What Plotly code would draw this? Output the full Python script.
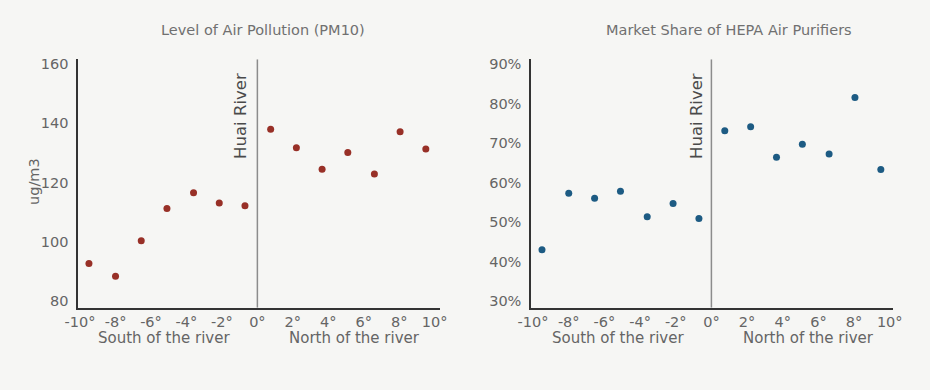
import plotly.graph_objects as go

# Data
latitude = [-9.5, -8.0, -6.55, -5.1, -3.6, -2.15, -0.7, 0.75, 2.2, 3.65, 5.1, 6.6, 8.05, 9.5]
pm10 = [92.6, 88.3, 100.3, 111.2, 116.5, 113.1, 112.1, 138.0, 131.7, 124.5, 130.1, 122.9, 137.1, 131.3]
hepa_share = [43.0, 57.3, 56.0, 57.8, 51.3, 54.7, 50.9, 73.1, 74.1, 66.4, 69.7, 67.2, 81.5, 63.3]

x_tickvals = [-10, -8, -6, -4, -2, 0, 2, 4, 6, 8, 10]
x_ticktext = ["-10°", "-8°", "-6°", "-4°", "-2°", "0°", "2°", "4°", "6°", "8°", "10°"]
pm_ticks = [80, 100, 120, 140, 160]
share_ticks = [30, 40, 50, 60, 70, 80, 90]
share_ticktext = ["30%", "40%", "50%", "60%", "70%", "80%", "90%"]

titles = ["Level of Air Pollution (PM10)", "Market Share of HEPA Air Purifiers"]
side_labels = ["South of the river", "North of the river"]
river_label = "Huai River"
y_label = "ug/m3"

BG = "#f6f6f4"
TXT = "#656565"
FONT = "DejaVu Sans"

fig = go.Figure()
fig.add_trace(go.Scatter(x=latitude, y=pm10, mode="markers", xaxis="x", yaxis="y",
                         marker=dict(color="#983027", size=7), showlegend=False))
fig.add_trace(go.Scatter(x=latitude, y=hepa_share, mode="markers", xaxis="x2", yaxis="y2",
                         marker=dict(color="#1d5b83", size=7), showlegend=False))

W, H = 930, 390
ydom = [(H - 307.7) / H, (H - 59.3) / H]

axis_common = dict(showgrid=False, zeroline=False, showline=True, linecolor="#333333",
                   linewidth=2, ticks="", automargin=False,
                   tickfont=dict(family=FONT, size=14.5, color=TXT))

fig.update_layout(
    width=W, height=H, autosize=False,
    margin=dict(l=0, r=0, t=0, b=0, pad=0),
    paper_bgcolor=BG, plot_bgcolor=BG,
    font=dict(family=FONT, color=TXT),
    xaxis=dict(domain=[78.3 / W, 440 / W], range=[-10.1, 10.3], anchor="y",
               tickvals=x_tickvals, ticktext=x_ticktext, **axis_common),
    yaxis=dict(domain=ydom, range=[77.7, 161.6], anchor="x", tickvals=pm_ticks,
               ticklabelstandoff=5, **axis_common),
    xaxis2=dict(domain=[531.3 / W, 893.3 / W], range=[-10.1, 10.2], anchor="y2",
                tickvals=x_tickvals, ticktext=x_ticktext, **axis_common),
    yaxis2=dict(domain=ydom, range=[28.3, 91.2], anchor="x2", tickvals=share_ticks,
                ticktext=share_ticktext, ticklabelstandoff=5, **axis_common),
)

# Huai river lines
for xr, yr, yrange in [("x", "y", [77.7, 161.6]), ("x2", "y2", [28.3, 91.2])]:
    fig.add_shape(type="line", xref=xr, yref=yr, x0=0, x1=0, y0=yrange[0], y1=yrange[1],
                  line=dict(color="#8c8c8c", width=1.5))

ann = []
# titles
ann.append(dict(text=titles[0], xref="paper", yref="paper", x=262.7 / W, y=(H - 30) / H,
                showarrow=False, font=dict(size=14.5, color="#707070"), xanchor="center", yanchor="middle"))
ann.append(dict(text=titles[1], xref="paper", yref="paper", x=729 / W, y=(H - 30) / H,
                showarrow=False, font=dict(size=14.5, color="#707070"), xanchor="center", yanchor="middle"))
# side labels
for xr in ["x", "x2"]:
    ann.append(dict(text=side_labels[0], xref=xr, yref="paper", x=-5.25, y=(H - 338) / H,
                    showarrow=False, font=dict(size=15, color=TXT), xanchor="center", yanchor="middle"))
    ann.append(dict(text=side_labels[1], xref=xr, yref="paper", x=5.45, y=(H - 338) / H,
                    showarrow=False, font=dict(size=15, color=TXT), xanchor="center", yanchor="middle"))
# river labels
ann.append(dict(text=river_label, xref="x", yref="paper", x=0, xshift=-17, y=(H - 115.5) / H,
                textangle=-90, showarrow=False, font=dict(size=16.5, color="#4a4a4a"),
                xanchor="center", yanchor="middle"))
ann.append(dict(text=river_label, xref="x2", yref="paper", x=0, xshift=-15, y=(H - 115.5) / H,
                textangle=-90, showarrow=False, font=dict(size=16.5, color="#4a4a4a"),
                xanchor="center", yanchor="middle"))
# y label
ann.append(dict(text=y_label, xref="paper", yref="paper", x=34 / W, y=(H - 182) / H,
                textangle=-90, showarrow=False, font=dict(size=14.5, color=TXT),
                xanchor="center", yanchor="middle"))
fig.update_layout(annotations=ann)

fig.write_html("out.html", config={"responsive": False, "displayModeBar": False},
               post_script="document.body.style.margin='0px';document.body.style.overflow='hidden';")
